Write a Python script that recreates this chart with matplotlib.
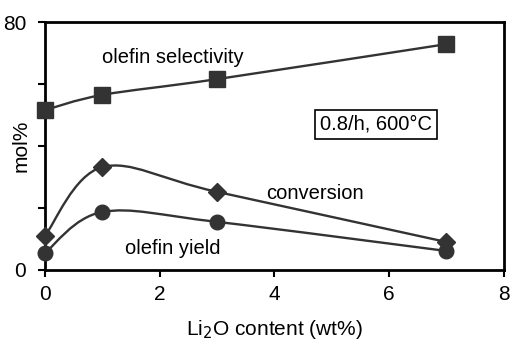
import numpy as np
import matplotlib.pyplot as plt
from matplotlib.path import Path
from matplotlib.patches import PathPatch

plt.rcParams["font.family"] = ["Liberation Sans", "DejaVu Sans"]

li2o = [0, 1, 3, 7]
selectivity = [51.6, 56.5, 61.6, 72.9]
conversion = [11.0, 33.2, 25.2, 9.0]
olefin_yield = [5.5, 18.7, 15.5, 6.1]

col = "#333333"


def smooth_path(x, y):
    # cubic Bezier through the points, Catmull-Rom style tangents
    pts = np.column_stack([x, y]).astype(float)
    n = len(pts)
    verts = [pts[0]]
    codes = [Path.MOVETO]
    for i in range(n - 1):
        p0 = pts[i - 1] if i > 0 else pts[i]
        p1, p2 = pts[i], pts[i + 1]
        p3 = pts[i + 2] if i + 2 < n else pts[i + 1]
        c1 = p1 + (p2 - p0) / 6
        c2 = p2 - (p3 - p1) / 6
        verts += [c1, c2, p2]
        codes += [Path.CURVE4] * 3
    return Path(verts, codes)


fig, ax = plt.subplots(figsize=(5.11, 3.46), dpi=100)
fig.subplots_adjust(left=0.088, right=0.986, top=0.936, bottom=0.22)

for y, m, ms in [(selectivity, "s", 11), (conversion, "D", 9.5), (olefin_yield, "o", 10.5)]:
    ax.add_patch(PathPatch(smooth_path(li2o, y), fill=False, ec=col, lw=1.7))
    ax.plot(li2o, y, ls="none", marker=m, ms=ms,
            mfc=col, mec=col, zorder=3, clip_on=False)

ax.set_xlim(0, 8)
ax.set_ylim(0, 80)
ax.set_xticks([0, 2, 4, 6, 8])
ax.set_yticks([0, 20, 40, 60, 80])
ax.set_yticklabels(["0", "", "", "", "80"])
ax.tick_params(direction="out", length=5, width=1.5, labelsize=15)
ax.tick_params(axis="x", pad=6)
ax.tick_params(axis="y", pad=8.5)
for s in ax.spines.values():
    s.set_linewidth(2)

ax.text(1.0, 66.8, "olefin selectivity", fontsize=14.5)
ax.text(3.85, 22.9, "conversion", fontsize=14.5)
ax.text(1.39, 5.2, "olefin yield", fontsize=14.5)
ax.text(4.79, 45.2, "0.8/h, 600°C", fontsize=14.5,
        bbox=dict(boxstyle="square,pad=0.25", fc="white", ec="black", lw=1.2))

ax.set_xlabel("Li$_2$O content (wt%)", fontsize=15, labelpad=10)
ax.set_ylabel("mol%", fontsize=15)
ax.yaxis.set_label_coords(-0.031, 0.5)

fig.savefig("out.png", dpi=100)
